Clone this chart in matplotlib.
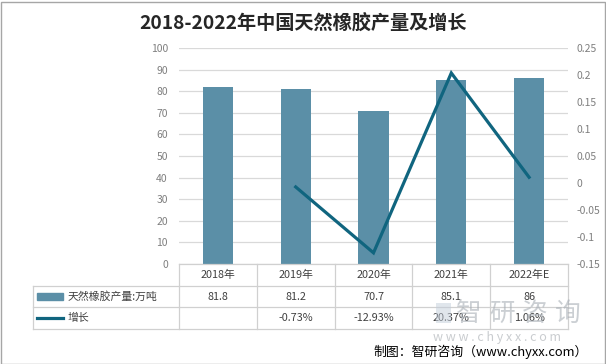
import matplotlib
matplotlib.use("Agg")
import matplotlib.pyplot as plt
from matplotlib.patches import Rectangle
from matplotlib.lines import Line2D

plt.rcParams['font.family'] = ['Noto Sans CJK SC', 'DejaVu Sans']

categories = ["2018年", "2019年", "2020年", "2021年", "2022年E"]
production = [81.8, 81.2, 70.7, 85.1, 86]
growth = [None, -0.0073, -0.1293, 0.2037, 0.0106]
growth_labels = ["", "-0.73%", "-12.93%", "20.37%", "1.06%"]
left_ticks = [0, 10, 20, 30, 40, 50, 60, 70, 80, 90, 100]
right_ticks = [-0.15, -0.1, -0.05, 0, 0.05, 0.1, 0.15, 0.2, 0.25]
right_labels = ["-0.15", "-0.1", "-0.05", "0", "0.05", "0.1", "0.15", "0.2", "0.25"]
series_names = ["天然橡胶产量:万吨", "增长"]
title = "2018-2022年中国天然橡胶产量及增长"

BAR_C = "#5b8fa7"
LINE_C = "#10657f"
GRID_C = "#d9d9d9"
TICK_C = "#7f7f7f"
TXT_C = "#404040"

W, H = 606, 364
fig = plt.figure(figsize=(W / 100, H / 100), dpi=100)

ax_l, ax_r, ax_t, ax_b = 179, 568, 48, 264
ax = fig.add_axes([ax_l / W, 1 - ax_b / H, (ax_r - ax_l) / W, (ax_b - ax_t) / H])
x = list(range(len(categories)))
ax.bar(x, production, width=0.39, color=BAR_C, zorder=2)
ax.set_xlim(-0.5, len(categories) - 0.5)
ax.set_ylim(0, 100)
ax.set_yticks(left_ticks)
ax.set_yticklabels([str(t) for t in left_ticks])
ax.yaxis.grid(True, color=GRID_C, linewidth=0.9, zorder=0)
ax.set_axisbelow(True)
ax.set_xticks([])
for s in ax.spines.values():
    s.set_visible(False)
ax.tick_params(axis='y', length=0, pad=8, labelsize=7.5, labelcolor=TICK_C)

ax2 = ax.twinx()
gx = [i for i, g in zip(x, growth) if g is not None]
gy = [g for g in growth if g is not None]
ax2.plot(gx, gy, color=LINE_C, linewidth=2.3, zorder=3, solid_joinstyle='miter')
ax2.set_ylim(-0.15, 0.25)
ax2.set_yticks(right_ticks)
ax2.set_yticklabels(right_labels)
for s in ax2.spines.values():
    s.set_visible(False)
ax2.tick_params(axis='y', length=0, pad=6, labelsize=7.5, labelcolor=TICK_C)
ax2.set_xlim(-0.5, len(categories) - 0.5)

# data table below axes
tl, tr, tt, tb = 33, 568, 264, 329
tax = fig.add_axes([tl / W, 1 - tb / H, (tr - tl) / W, (tb - tt) / H])
ncat = len(categories)
unit = (ax_r - ax_l) / ncat
left_data = -0.5 - (ax_l - tl) / unit
tax.set_xlim(left_data, ncat - 0.5)
tax.set_ylim(3, 0)
tax.axis('off')
lc = "#d0d0d0"
lw = 0.9
tax.add_line(Line2D([-0.5, ncat - 0.5], [0, 0], color=lc, lw=lw, clip_on=False))
for yy in [1, 2, 3]:
    tax.add_line(Line2D([left_data, ncat - 0.5], [yy, yy], color=lc, lw=lw, clip_on=False))
for i in range(ncat + 1):
    tax.add_line(Line2D([i - 0.5, i - 0.5], [0, 3], color=lc, lw=lw, clip_on=False))
tax.add_line(Line2D([left_data, left_data], [1, 3], color=lc, lw=lw, clip_on=False))

fs = 7.8
for i, c in enumerate(categories):
    tax.text(i, 0.5, c, ha='center', va='center', fontsize=fs, color=TXT_C)
    tax.text(i, 1.5, f"{production[i]:g}", ha='center', va='center', fontsize=fs, color=TXT_C)
    tax.text(i, 2.5, growth_labels[i], ha='center', va='center', fontsize=fs, color=TXT_C)

key_x0 = left_data + 4 / unit
key_x1 = key_x0 + 26 / unit
tax.add_patch(Rectangle((key_x0, 1.5 - 0.17), key_x1 - key_x0, 0.34, color=BAR_C))
tax.add_line(Line2D([key_x0, key_x1], [2.5, 2.5], color=LINE_C, lw=2.3))
tax.text(key_x1 + 5 / unit, 1.5, series_names[0], ha='left', va='center', fontsize=fs, color=TXT_C)
tax.text(key_x1 + 5 / unit, 2.5, series_names[1], ha='left', va='center', fontsize=fs, color=TXT_C)

# title
fig.text(303 / W, 1 - 23 / H, title, ha='center', va='center', fontsize=13.8,
         fontweight='bold', color="#262626")

# watermark
for k, ch in enumerate("智研咨询"):
    fig.text((456 + 33 * k) / W, 1 - 314 / H, ch, ha='left', va='center', fontsize=18.5,
             color="#a9b0b7", alpha=0.6)
fig.add_artist(Rectangle((436 / W, 1 - 323 / H), 15 / W, 20 / H, transform=fig.transFigure,
                         facecolor="#c3cedb", edgecolor='none', alpha=0.5))
fig.text(433 / W, 1 - 337 / H, "w w w . c h y x x . c o m", ha='left', va='center',
         fontsize=9, color="#b8bcc0", alpha=0.75)

# footer
fig.text(588 / W, 1 - 352 / H, "制图：智研咨询（www.chyxx.com）", ha='right', va='center',
         fontsize=9.3, color="#000000")

# border
fig.add_artist(Rectangle((0.5 / W, 0.5 / H), (W - 2) / W, (H - 2) / H,
                         transform=fig.transFigure, fill=False, edgecolor="#a6a6a6", lw=1.0))

fig.savefig("out.png", dpi=100)
